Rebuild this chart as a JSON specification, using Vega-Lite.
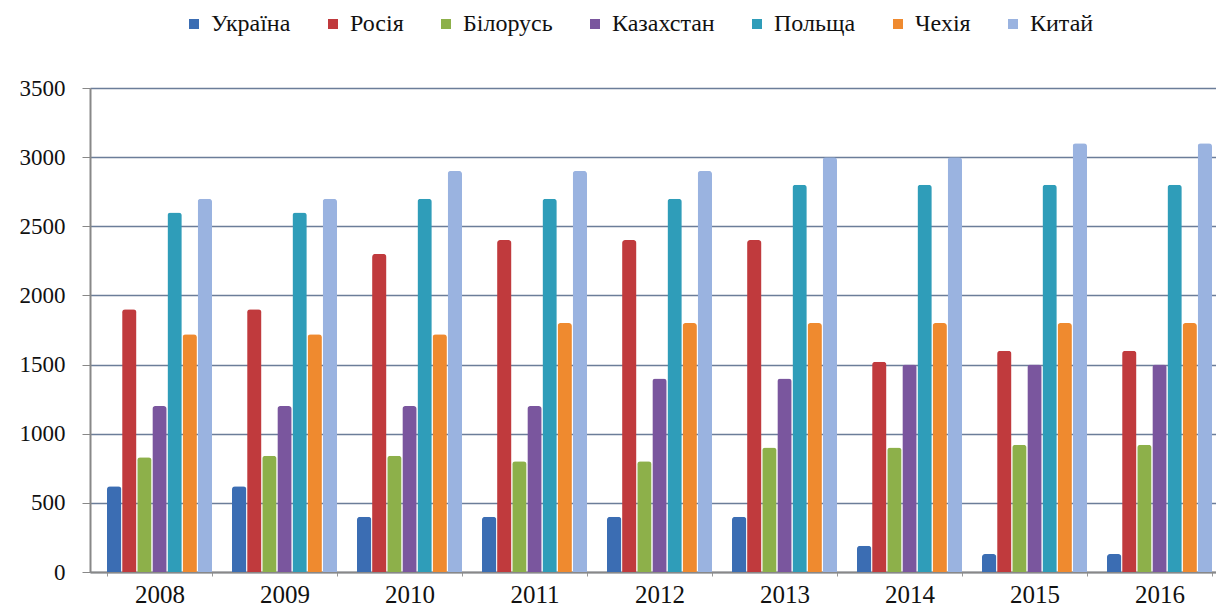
{
  "$schema": "https://vega.github.io/schema/vega-lite/v6.json",
  "autosize": {"type": "none"},
  "width": 1139,
  "height": 484,
  "padding": {"left": 90, "top": 88, "right": 0, "bottom": 39},
  "background": "white",
  "config": {
    "view": {"stroke": null},
    "font": "Liberation Serif",
    "axis": {"labelFont": "Liberation Serif"},
    "legend": {"labelFont": "Liberation Serif"}
  },
  "data": {
    "values": [
      {"year": "2008", "country": "Україна", "value": 620},
      {"year": "2008", "country": "Росія", "value": 1900},
      {"year": "2008", "country": "Білорусь", "value": 830},
      {"year": "2008", "country": "Казахстан", "value": 1200},
      {"year": "2008", "country": "Польща", "value": 2600},
      {"year": "2008", "country": "Чехія", "value": 1720},
      {"year": "2008", "country": "Китай", "value": 2700},
      {"year": "2009", "country": "Україна", "value": 620},
      {"year": "2009", "country": "Росія", "value": 1900},
      {"year": "2009", "country": "Білорусь", "value": 840},
      {"year": "2009", "country": "Казахстан", "value": 1200},
      {"year": "2009", "country": "Польща", "value": 2600},
      {"year": "2009", "country": "Чехія", "value": 1720},
      {"year": "2009", "country": "Китай", "value": 2700},
      {"year": "2010", "country": "Україна", "value": 400},
      {"year": "2010", "country": "Росія", "value": 2300},
      {"year": "2010", "country": "Білорусь", "value": 840},
      {"year": "2010", "country": "Казахстан", "value": 1200},
      {"year": "2010", "country": "Польща", "value": 2700},
      {"year": "2010", "country": "Чехія", "value": 1720},
      {"year": "2010", "country": "Китай", "value": 2900},
      {"year": "2011", "country": "Україна", "value": 400},
      {"year": "2011", "country": "Росія", "value": 2400},
      {"year": "2011", "country": "Білорусь", "value": 800},
      {"year": "2011", "country": "Казахстан", "value": 1200},
      {"year": "2011", "country": "Польща", "value": 2700},
      {"year": "2011", "country": "Чехія", "value": 1800},
      {"year": "2011", "country": "Китай", "value": 2900},
      {"year": "2012", "country": "Україна", "value": 400},
      {"year": "2012", "country": "Росія", "value": 2400},
      {"year": "2012", "country": "Білорусь", "value": 800},
      {"year": "2012", "country": "Казахстан", "value": 1400},
      {"year": "2012", "country": "Польща", "value": 2700},
      {"year": "2012", "country": "Чехія", "value": 1800},
      {"year": "2012", "country": "Китай", "value": 2900},
      {"year": "2013", "country": "Україна", "value": 400},
      {"year": "2013", "country": "Росія", "value": 2400},
      {"year": "2013", "country": "Білорусь", "value": 900},
      {"year": "2013", "country": "Казахстан", "value": 1400},
      {"year": "2013", "country": "Польща", "value": 2800},
      {"year": "2013", "country": "Чехія", "value": 1800},
      {"year": "2013", "country": "Китай", "value": 3000},
      {"year": "2014", "country": "Україна", "value": 190},
      {"year": "2014", "country": "Росія", "value": 1520},
      {"year": "2014", "country": "Білорусь", "value": 900},
      {"year": "2014", "country": "Казахстан", "value": 1500},
      {"year": "2014", "country": "Польща", "value": 2800},
      {"year": "2014", "country": "Чехія", "value": 1800},
      {"year": "2014", "country": "Китай", "value": 3000},
      {"year": "2015", "country": "Україна", "value": 130},
      {"year": "2015", "country": "Росія", "value": 1600},
      {"year": "2015", "country": "Білорусь", "value": 920},
      {"year": "2015", "country": "Казахстан", "value": 1500},
      {"year": "2015", "country": "Польща", "value": 2800},
      {"year": "2015", "country": "Чехія", "value": 1800},
      {"year": "2015", "country": "Китай", "value": 3100},
      {"year": "2016", "country": "Україна", "value": 130},
      {"year": "2016", "country": "Росія", "value": 1600},
      {"year": "2016", "country": "Білорусь", "value": 920},
      {"year": "2016", "country": "Казахстан", "value": 1500},
      {"year": "2016", "country": "Польща", "value": 2800},
      {"year": "2016", "country": "Чехія", "value": 1800},
      {"year": "2016", "country": "Китай", "value": 3100}
    ]
  },
  "mark": {"type": "bar", "cornerRadiusTopLeft": 3, "cornerRadiusTopRight": 3},
  "encoding": {
    "x": {
      "field": "year",
      "type": "nominal",
      "scale": {"paddingInner": 0.16, "paddingOuter": 0.136},
      "axis": {
        "title": null,
        "labelAngle": 0,
        "labelFont": "Liberation Serif",
        "labelFontSize": 25,
        "labelColor": "#111111",
        "labelPadding": 6,
        "domainColor": "#888888",
        "domainWidth": 2,
        "tickBand": "extent",
        "tickSize": 4,
        "tickColor": "#999999"
      }
    },
    "xOffset": {
      "field": "country",
      "type": "nominal",
      "sort": ["Україна", "Росія", "Білорусь", "Казахстан", "Польща", "Чехія", "Китай"],
      "scale": {"paddingInner": 0.05}
    },
    "y": {
      "field": "value",
      "type": "quantitative",
      "scale": {"domain": [0, 3500]},
      "axis": {
        "title": null,
        "format": "d",
        "values": [0, 500, 1000, 1500, 2000, 2500, 3000, 3500],
        "labelFont": "Liberation Serif",
        "labelFontSize": 23,
        "labelColor": "#111111",
        "labelPadding": 17,
        "tickSize": 8,
        "tickColor": "#888888",
        "domainColor": "#888888",
        "domainWidth": 2,
        "grid": true,
        "gridColor": "#6b7d99",
        "gridWidth": 1.5
      }
    },
    "color": {
      "field": "country",
      "type": "nominal",
      "sort": ["Україна", "Росія", "Білорусь", "Казахстан", "Польща", "Чехія", "Китай"],
      "scale": {
        "domain": ["Україна", "Росія", "Білорусь", "Казахстан", "Польща", "Чехія", "Китай"],
        "range": ["#3b6db3", "#c03a3d", "#8db04a", "#7a569e", "#2f9db9", "#ef8a2f", "#9ab3e0"]
      },
      "legend": {
        "title": null,
        "orient": "none",
        "direction": "horizontal",
        "legendX": 92,
        "legendY": -76,
        "symbolType": "square",
        "symbolSize": 100,
        "symbolStrokeWidth": 0,
        "labelFont": "Liberation Serif",
        "labelFontSize": 24,
        "labelColor": "#111111",
        "labelOffset": 5,
        "columnPadding": 30
      }
    }
  }
}
